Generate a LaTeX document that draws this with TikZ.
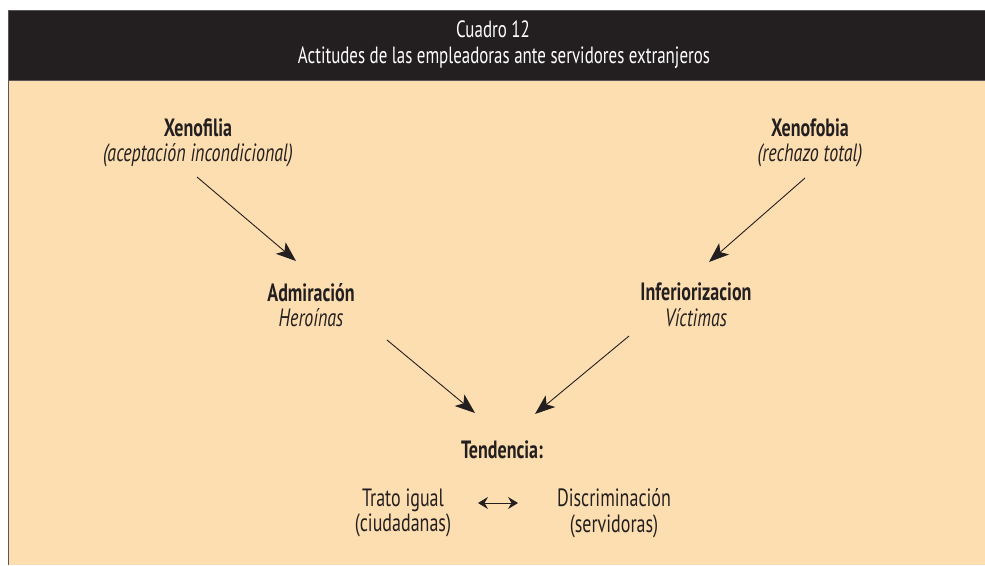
\documentclass[tikz,border=0pt]{standalone}
\usepackage{fontspec}
\setmainfont{PT Sans}[FakeStretch=0.72]
\usetikzlibrary{arrows.meta}
\definecolor{hdr}{HTML}{231F20}
\definecolor{peach}{HTML}{FDDEB0}
\definecolor{frame}{HTML}{5A5656}
\tikzset{
  lbl/.style={font=\fontsize{25}{25.5}\selectfont, align=center, inner sep=0pt, text=hdr},
  ttl/.style={font=\fontsize{23.5}{22}\selectfont, text=white, inner sep=0pt},
  conn/.style={draw=hdr, line width=0.9pt, -{Stealth[length=20pt, width=15pt, inset=5pt]}},
}
\begin{document}
\begin{tikzpicture}[x=1pt,y=-1pt]
\useasboundingbox (0,0) rectangle (985,565);
\fill[white] (0,0) rectangle (985,565);
\fill[peach] (8,80) rectangle (985,565);
\fill[hdr] (8,10) rectangle (985,80);
\draw[frame, line width=1pt] (8.5,565) -- (8.5,10.5) -- (985,10.5);
\draw[frame, line width=1pt] (8,80) -- (985,80);
\node[ttl] (t1) at (493,29) {Cuadro 12};
\node[ttl] (t2) at (504,58) {Actitudes de las empleadoras ante servidores extranjeros};

\node[lbl] (xf) at (198,143) {\textbf{Xenofilia}\\\textit{(aceptación incondicional)}};
\node[lbl] (xb) at (810,143) {\textbf{Xenofobia}\\\textit{(rechazo total)}};
\node[lbl] (ad) at (311,305) {\textbf{Admiración}\\\textit{Heroínas}};
\node[lbl] (in) at (696,305) {\textbf{Inferiorizacion}\\\textit{Víctimas}};
\node[lbl] (td) at (502,450) {\textbf{Tendencia:}};
\node[lbl] (ti) at (403,513) {Trato igual\\(ciudadanas)};
\node[lbl] (di) at (614,513) {Discriminación\\(servidoras)};

\coordinate (a1s) at (197,177); \coordinate (a1e) at (296,261);
\coordinate (a2s) at (805,178); \coordinate (a2e) at (709,262);
\coordinate (a3s) at (387,340); \coordinate (a3e) at (475,413);
\coordinate (a4s) at (629,336); \coordinate (a4e) at (535,414);
\draw[conn] (a1s) -- (a1e);
\draw[conn] (a2s) -- (a2e);
\draw[conn] (a3s) -- (a3e);
\draw[conn] (a4s) -- (a4e);
\coordinate (l) at (478,503); \coordinate (r) at (518,503);
\draw[draw=hdr, line width=0.9pt, {Stealth[length=10pt,width=12pt,inset=3.5pt]}-{Stealth[length=10pt,width=12pt,inset=3.5pt]}] (l) -- (r);
\end{tikzpicture}
\end{document}
